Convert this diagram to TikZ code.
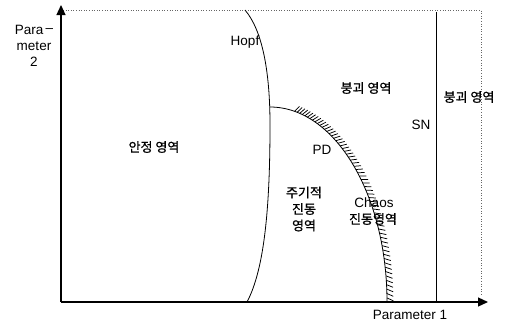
\documentclass[tikz,border=0pt]{standalone}
\usepackage{fontspec}
\setmainfont{Liberation Sans}
\newfontfamily\kr[FakeBold=1]{Noto Sans CJK KR}
\usetikzlibrary{arrows.meta,calc}
\begin{document}
\begin{tikzpicture}[x=1pt,y=-1pt,
  lbl/.style={font=\fontsize{13.5}{16}\selectfont, inner sep=0pt, align=center},
  klbl/.style={font=\kr\fontsize{13}{16.5}\selectfont, inner sep=0pt, align=center},
  axis/.style={line width=1.2pt, -{Triangle[length=10pt,width=9pt]}},
  curve/.style={line width=0.8pt}]
\useasboundingbox (0,0) rectangle (505,322);
\coordinate (O) at (61,302);
\coordinate (Ytop) at (61,5);
\coordinate (Xend) at (488,302);
% dotted frame
\coordinate (TL) at (63,10);
\coordinate (TR) at (481,10);
\coordinate (BR) at (481,296);
\draw[dotted, line width=0.6pt, black!60] (TL) -- (TR) -- (BR);
% axes
\draw[axis] (O) -- (Ytop);
\draw[axis] (O) -- (Xend);
% SN line
\coordinate (SNt) at (436,12);
\coordinate (SNb) at (436,302);
\draw[curve] (SNt) -- (SNb);
% Hopf curve
\coordinate (H0) at (245,10);
\coordinate (H1) at (270,125);
\coordinate (H2) at (247,302);
\draw[curve] (H0) .. controls (262,30) and (270,70) .. (H1)
  .. controls (270,210) and (264,270) .. (H2);
% PD curve
\draw[curve] (270,107) arc[start angle=90, end angle=0, x radius=117, y radius=-195];
\foreach \t in {1.2,2.5,...,79} {
  \pgfmathsetmacro\cx{cos(\t)/117}
  \pgfmathsetmacro\cy{sin(\t)/195}
  \pgfmathsetmacro\nn{veclen(\cx,\cy)}
  \pgfmathsetmacro\ux{\cx/\nn}
  \pgfmathsetmacro\uy{\cy/\nn}
  \draw[line width=0.75pt] ({270+117*cos(\t)},{302-195*sin(\t)}) -- ++({7*(\ux*cos(25)+\uy*sin(25))},{-7*(\uy*cos(25)-\ux*sin(25))});
}
% labels
\node[lbl] (p2) at (34,46) {Para\,\raisebox{0.25ex}{--}\\meter\\2};
\node[lbl] (hopf) at (245,42) {Hopf};
\node[klbl] (b1) at (366,88) {붕괴 영역};
\node[klbl] (b2) at (469,97) {붕괴 영역};
\node[lbl] (sn) at (421,125) {SN};
\node[klbl] (st) at (154,147) {안정 영역};
\node[lbl] (pd) at (322,150) {PD};
\node[klbl] (per) at (304,209) {주기적\\진동\\영역};
\node[lbl] (ch) at (374,203) {Chaos};
\node[klbl] (chv) at (373,219) {진동영역};
\node[lbl] (p1) at (410,315) {Parameter 1};
\end{tikzpicture}
\end{document}
